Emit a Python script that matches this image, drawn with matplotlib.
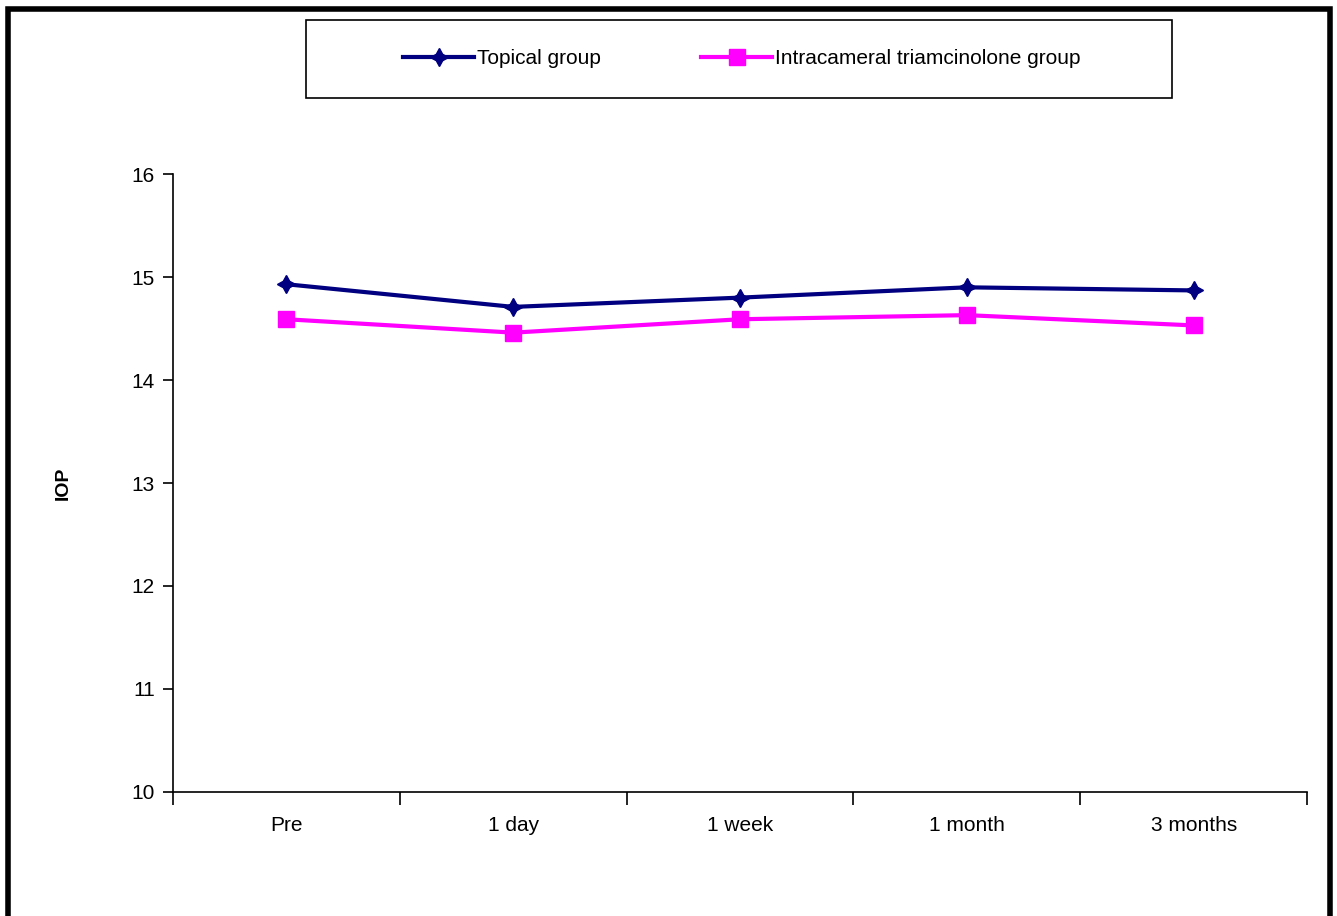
import matplotlib
matplotlib.use('Agg')
import matplotlib.pyplot as plt
from matplotlib.patches import Rectangle

plt.rcParams['font.family'] = ['Liberation Sans Narrow', 'Liberation Sans', 'DejaVu Sans']

# data
timepoints = ['Pre', '1 day', '1 week', '1 month', '3 months']
topical = [14.93, 14.71, 14.80, 14.90, 14.87]
intracameral = [14.59, 14.46, 14.59, 14.63, 14.53]
series_names = ['Topical group', 'Intracameral triamcinolone group']

fig = plt.figure(figsize=(13.37, 9.16), dpi=100)
ax = fig.add_axes([0.1294, 0.1354, 0.8482, 0.6746])

x = range(len(timepoints))
ax.plot(x, topical, color='#000080', lw=3, marker=(4, 1, 0), ms=13,
        label=series_names[0])
ax.plot(x, intracameral, color='#FF00FF', lw=3, marker='s', ms=11,
        label=series_names[1])

ax.set_xlim(-0.5, len(timepoints) - 0.5)
ax.set_ylim(10, 16)
ax.set_yticks(range(10, 17))
# category boundaries get the tick marks, labels sit in between
ax.set_xticks([i - 0.5 for i in range(len(timepoints) + 1)])
ax.set_xticklabels([])
ax.set_xticks(list(x), minor=True)
ax.set_xticklabels(timepoints, minor=True)
ax.tick_params(axis='x', which='minor', length=0, pad=17, labelsize=15)
ax.tick_params(axis='x', which='major', length=9, width=1.2, direction='out')
ax.tick_params(axis='y', length=7, width=1.2, direction='out', labelsize=15, pad=6)

for s in ['top', 'right']:
    ax.spines[s].set_visible(False)
for s in ['left', 'bottom']:
    ax.spines[s].set_linewidth(1.2)

ax.set_ylabel('IOP', fontweight='bold', fontsize=14, family='Liberation Sans', labelpad=43)

# legend without its own frame, box drawn separately
fig.legend(loc='center', bbox_to_anchor=(0.555, 0.9356), ncol=2,
           fontsize=15, frameon=False, handlelength=3.4, columnspacing=4.8,
           handletextpad=0.15)
fig.patches.append(Rectangle((306 / 1337, 1 - 98 / 916), 866 / 1337, 78 / 916,
                             transform=fig.transFigure, fill=False,
                             edgecolor='black', lw=1.2))

# outer frame
fig.patches.append(Rectangle((0.006, -0.1), 0.989, 1.09, transform=fig.transFigure,
                             fill=False, edgecolor='black', lw=4))

fig.savefig('out.png', dpi=100)
